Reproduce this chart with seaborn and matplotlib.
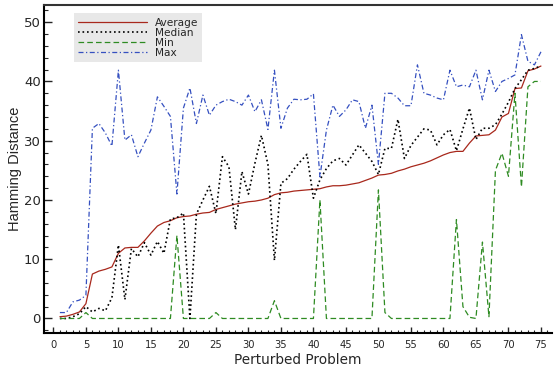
import numpy as np
import pandas as pd
import matplotlib
matplotlib.use("Agg")
import matplotlib.pyplot as plt
import seaborn as sns

problems = list(range(1, 76))

average = [0.3, 0.4, 0.7, 1.1, 2.5, 7.5, 8.0, 8.3, 8.7, 11.0,
           11.9, 12.0, 12.0, 13.1, 14.4, 15.6, 16.2, 16.5, 17.0, 17.2,
           17.3, 17.6, 17.8, 17.9, 18.4, 18.7, 19.0, 19.3, 19.5, 19.7,
           19.8, 20.0, 20.3, 20.9, 21.2, 21.3, 21.5, 21.6, 21.7, 21.8,
           21.9, 22.2, 22.4, 22.4, 22.5, 22.7, 22.9, 23.3, 23.7, 24.2,
           24.3, 24.5, 24.9, 25.2, 25.6, 25.9, 26.2, 26.6, 27.1, 27.6,
           28.0, 28.2, 28.2, 29.6, 30.8, 30.9, 31.0, 31.8, 34.0, 34.6,
           38.8, 38.9, 41.8, 42.1, 42.6]

median = [0.0, 0.0, 0.3, 0.8, 2.0, 1.1, 1.7, 1.3, 3.5, 12.4,
          3.2, 11.8, 10.4, 12.8, 10.7, 13.0, 11.0, 16.8, 17.0, 17.8,
          0.0, 17.6, 20.0, 22.3, 17.7, 27.3, 25.6, 15.0, 24.8, 21.0,
          26.2, 30.9, 26.0, 9.8, 22.8, 23.6, 25.2, 26.5, 27.7, 20.3,
          23.4, 25.3, 26.6, 27.0, 25.9, 27.6, 29.3, 27.9, 26.5, 24.3,
          28.7, 28.7, 33.6, 27.0, 29.2, 30.6, 32.0, 31.8, 29.3, 31.0,
          31.9, 28.3, 32.0, 35.5, 30.2, 32.1, 32.1, 32.7, 34.5, 36.5,
          38.8, 40.3, 41.9, 42.2, 42.6]

minimum = [0, 0, 0, 0, 1.0, 0, 0, 0, 0, 0,
           0, 0, 0, 0, 0, 0, 0, 0, 14.0, 0,
           0, 0, 0, 0, 1.0, 0, 0, 0, 0, 0,
           0, 0, 0, 3.0, 0, 0, 0, 0, 0, 0,
           20.0, 0, 0, 0, 0, 0, 0, 0, 0, 21.7,
           1.0, 0, 0, 0, 0, 0, 0, 0, 0, 0,
           0, 16.7, 2.0, 0.2, 0, 12.9, 0.3, 25.0, 27.9, 24.0,
           38.0, 22.2, 39.1, 40.0, 40.0]

maximum = [1.0, 1.0, 2.8, 3.1, 3.9, 32.1, 32.9, 31.3, 29.1, 41.9,
           30.1, 31.0, 27.3, 29.6, 31.8, 37.4, 35.8, 34.1, 21.0, 35.5,
           38.9, 32.9, 37.7, 34.3, 36.0, 36.6, 37.0, 36.6, 36.0, 37.7,
           34.9, 36.9, 31.9, 41.9, 32.1, 35.5, 37.0, 36.9, 37.0, 37.9,
           23.9, 31.8, 36.0, 34.1, 35.2, 36.9, 36.6, 32.1, 36.0, 26.0,
           38.0, 38.0, 37.2, 35.9, 35.9, 42.8, 38.0, 37.7, 37.2, 36.9,
           41.9, 39.1, 39.4, 39.1, 41.9, 36.9, 41.9, 38.3, 40.0, 40.5,
           41.1, 47.9, 43.4, 42.8, 45.0]

x_ticks = list(range(0, 80, 5))
y_ticks = [0, 10, 20, 30, 40, 50]

sns.set_style("ticks")
plt.rcParams['font.family'] = ['DejaVu Sans']

fig = plt.figure(figsize=(5.56, 3.71), dpi=100)
ax = fig.add_axes([44.3 / 556, 1 - 333.3 / 371, (552 - 44.3) / 556, (333.3 - 5) / 371])

df = pd.DataFrame({"x": problems, "Average": average, "Median": median,
                   "Min": minimum, "Max": maximum})

sns.lineplot(data=df, x="x", y="Average", ax=ax, color="#a8281c", linewidth=0.9,
             label="Average")
sns.lineplot(data=df, x="x", y="Median", ax=ax, color="black", linewidth=1.2,
             linestyle=(0, (1, 1.7)), label="Median")
sns.lineplot(data=df, x="x", y="Min", ax=ax, color="#2e8b22", linewidth=0.9,
             linestyle=(0, (4.5, 2.5)), label="Min")
sns.lineplot(data=df, x="x", y="Max", ax=ax, color="#3550c0", linewidth=0.9,
             linestyle=(0, (4, 2, 1, 2)), label="Max")

ax.set_xlim(-1.4, 76.7)
ax.set_ylim(-2.5, 52.9)
ax.set_xticks(x_ticks)
ax.set_yticks(y_ticks)
ax.set_xticks(range(0, 77), minor=True)
ax.set_yticks(np.arange(-2, 53, 2), minor=True)

for s in ["left", "bottom", "top"]:
    ax.spines[s].set_linewidth(1.5)
    ax.spines[s].set_color("black")
ax.spines["top"].set_color("#333333")
ax.spines["right"].set_visible(False)

ax.tick_params(axis="x", which="major", direction="in", length=4.5, width=1.0,
               labelsize=7.2, pad=5, top=False)
ax.tick_params(axis="x", which="minor", direction="in", length=2.5, width=0.8, top=False)
ax.tick_params(axis="y", which="major", direction="in", length=6, width=1.0,
               labelsize=9.5, pad=2.5, right=False)
ax.tick_params(axis="y", which="minor", direction="in", length=3, width=0.8, right=False)

ax.set_xlabel("Perturbed Problem", fontsize=9.8, labelpad=2)
ax.set_ylabel("Hamming Distance", fontsize=10.5, labelpad=1.5,
              family=["Liberation Sans", "DejaVu Sans"])

leg = ax.legend(loc="upper left", bbox_to_anchor=(74 / 556, 1 - 13.3 / 371),
                bbox_transform=fig.transFigure, fontsize=7.6, frameon=True,
                fancybox=False, handlelength=6.5, handletextpad=0.75,
                labelspacing=0.0, borderpad=0.4, borderaxespad=0)
leg.get_frame().set_facecolor("#e8e8e8")
leg.get_frame().set_edgecolor("none")
leg.get_frame().set_alpha(1)

fig.savefig("out.png", dpi=100)
